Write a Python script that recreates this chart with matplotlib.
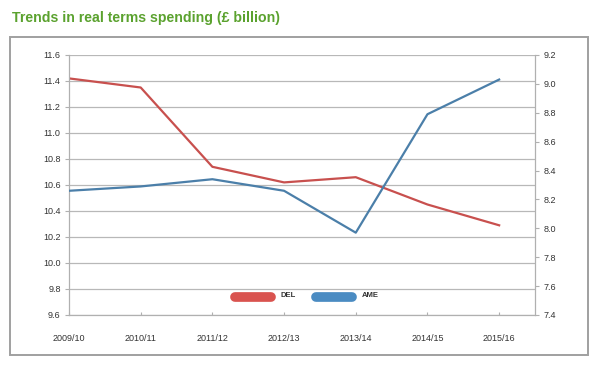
import matplotlib
matplotlib.use("Agg")
import matplotlib.pyplot as plt
from matplotlib.lines import Line2D
from matplotlib.patches import Rectangle

categories = ["2009/10", "2010/11", "2011/12", "2012/13", "2013/14", "2014/15", "2015/16"]
del_values = [11.42, 11.35, 10.74, 10.62, 10.66, 10.45, 10.29]
ame_values = [8.26, 8.29, 8.34, 8.26, 7.97, 8.79, 9.03]
left_ticks = [9.6, 9.8, 10.0, 10.2, 10.4, 10.6, 10.8, 11.0, 11.2, 11.4, 11.6]
right_ticks = [7.4, 7.6, 7.8, 8.0, 8.2, 8.4, 8.6, 8.8, 9.0, 9.2]
title = "Trends in real terms spending (£ billion)"

plt.rcParams['font.family'] = ['Liberation Sans', 'DejaVu Sans']

fig = plt.figure(figsize=(6, 3.65), dpi=100)
fig.patch.set_facecolor("white")

# outer frame
fig.add_artist(Rectangle((10/600, 1 - 355/365), 578/600, 318/365, transform=fig.transFigure,
                         fill=False, edgecolor="#a0a0a0", linewidth=1.4))

fig.text(12/600, 1 - 18/365, title, color="#5ba22f", fontsize=10.2, fontweight="bold",
         ha="left", va="center")

ax = fig.add_axes([69/600, 1 - 315/365, 466/600, 260/365])
ax2 = ax.twinx()

x = list(range(len(categories)))
ax.plot(x, del_values, color="#c8504e", linewidth=1.6, zorder=3)
ax2.plot(x, ame_values, color="#4b7fa9", linewidth=1.6, zorder=3)

ax.set_xlim(0, 6.5)
ax.set_ylim(9.6, 11.6)
ax2.set_ylim(7.4, 9.2)
ax.set_yticks(left_ticks)
ax.set_yticklabels([f"{v:.1f}" for v in left_ticks])
ax2.set_yticks(right_ticks)
ax2.set_yticklabels([f"{v:.1f}" for v in right_ticks])
ax.set_xticks(x)
ax.set_xticklabels(categories)

ax.grid(axis="y", color="#b8b8b8", linewidth=0.9)
ax.set_axisbelow(True)

for a in (ax, ax2):
    a.spines["top"].set_visible(False)
    a.spines["left"].set_color("#b0b0b0")
    a.spines["right"].set_color("#b0b0b0")
    a.spines["bottom"].set_color("#b0b0b0")
    a.tick_params(colors="#b0b0b0", labelcolor="#333333", labelsize=6.5, width=0.8)

ax.tick_params(axis="y", length=3, pad=3)
ax2.tick_params(axis="y", length=3, pad=3)
ax.tick_params(axis="x", direction="in", length=2, pad=14)

ax.patch.set_visible(False)

handles = [Line2D([0], [0], color="#d9534f", linewidth=7, solid_capstyle="round"),
           Line2D([0], [0], color="#4a8bc2", linewidth=7, solid_capstyle="round")]
leg = ax2.legend(handles, ["DEL", "AME"], loc="center", bbox_to_anchor=(0.51, 0.065),
                 ncol=2, frameon=True, fontsize=5.5, handlelength=4.8, handletextpad=1.2,
                 columnspacing=2.6, borderpad=0.3)
leg.get_frame().set_facecolor("white")
leg.get_frame().set_edgecolor("none")
leg.get_frame().set_alpha(1)
for t in leg.get_texts():
    t.set_color("#333333")
    t.set_fontweight("bold")
    t.set_y(3)

fig.savefig("out.png", dpi=100)
